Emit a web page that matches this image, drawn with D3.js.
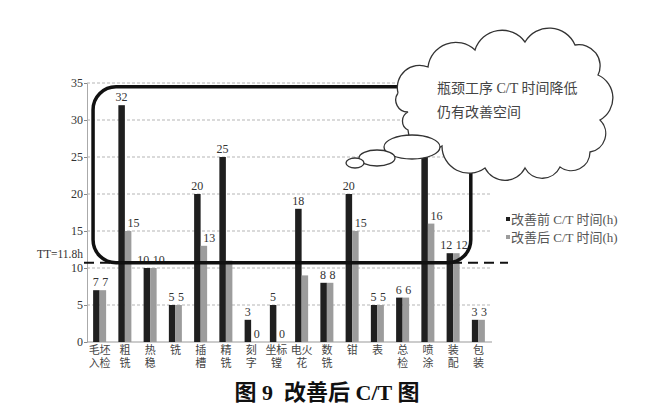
<!DOCTYPE html>
<html><head><meta charset="utf-8">
<script src="https://cdn.jsdelivr.net/npm/d3@7"></script>
<style>
html,body{margin:0;padding:0;background:#fff;}
svg{display:block;}
</style></head>
<body><svg id="c" width="650" height="411"></svg>
<script>
const categories = ["毛坯入检","粗铣","热稳","铣","插槽","精铣","刻字","坐标镗","电火花","数铣","钳","表","总检","喷涂","装配","包装"];
const categoryLines = [["毛坯","入检"],["粗","铣"],["热","稳"],["铣"],["插","槽"],["精","铣"],["刻","字"],["坐标","镗"],["电火","花"],["数","铣"],["钳"],["表"],["总","检"],["喷","涂"],["装","配"],["包","装"]];
const beforeValues = [7,32,10,5,20,25,3,5,18,8,20,5,6,25,12,3];
const afterValues  = [7,15,10,5,13,11,0,0,9,8,15,5,6,16,12,3];
const beforeLabels = [7,32,10,5,20,25,3,5,18,8,20,5,6,null,12,3];
const afterLabels  = [7,15,10,5,13,null,0,0,null,8,15,5,6,16,12,3];
const seriesNames = ["改善前 C/T 时间(h)","改善后 C/T 时间(h)"];
const yTicks = [0,5,10,15,20,25,30,35];
const ttText = "TT=11.8h";
const ttLineValue = 10.7;
const boxTopValue = 34.5;
const calloutLines = ["瓶颈工序 C/T 时间降低","仍有改善空间"];
const titleText = "图 9  改善后 C/T 图";

const serif = "'Liberation Serif','Noto Sans CJK SC',serif";
const svg = d3.select("#c");
const L = 87, R = 491, T = 83, B = 342;

const x0 = d3.scaleBand().domain(categories).range([L, R]).padding(0);
const bw = x0.bandwidth();
const x1 = d3.scaleBand().domain([0,1]).range([0, bw]).paddingInner(0).paddingOuter(0.94);
const y = d3.scaleLinear().domain([0,35]).range([B, T]);
const colors = ["#1f1f1f", "#9c9c9c"];

// grid
svg.append("g").selectAll("line").data(yTicks.filter(d=>d>0)).join("line")
  .attr("x1", L).attr("x2", R+1).attr("y1", d=>y(d)).attr("y2", d=>y(d))
  .attr("stroke", "#b5b5b5").attr("stroke-width", 1).attr("stroke-dasharray", "3,2");

// y axis
const yAxis = d3.axisLeft(y).tickValues(yTicks).tickSize(3).tickPadding(1);
const ya = svg.append("g").attr("transform", `translate(${L},0)`).call(yAxis);
ya.select(".domain").attr("stroke", "#aaa");
ya.selectAll(".tick line").attr("stroke", "#888");
ya.selectAll("text").attr("font-family", serif).attr("font-size", 12).attr("fill", "#333");

// x axis baseline
svg.append("line").attr("x1", L).attr("x2", R+1).attr("y1", B).attr("y2", B).attr("stroke", "#999");

// bars
const groups = svg.append("g").selectAll("g").data(categories).join("g")
  .attr("transform", d => `translate(${x0(d)},0)`);
groups.each(function(c, i){
  const g = d3.select(this);
  const vals = [beforeValues[i], afterValues[i]];
  const labs = [beforeLabels[i], afterLabels[i]];
  vals.forEach((v, s) => {
    g.append("rect").attr("x", x1(s)).attr("width", x1.bandwidth())
      .attr("y", y(v)).attr("height", B - y(v)).attr("fill", colors[s]);
  });
  const pair = Math.abs(vals[0] - vals[1]) < 2 && labs[0] !== null && labs[1] !== null;
  if (labs[0] !== null) {
    const t = g.append("text").attr("y", y(vals[0]) - 4)
      .attr("font-family", serif).attr("font-size", 12).attr("fill", "#333").text(labs[0]);
    if (pair) t.attr("x", bw/2 - 1).attr("text-anchor", "end");
    else t.attr("x", x1(0) + x1.bandwidth()/2).attr("text-anchor", "middle");
  }
  if (labs[1] !== null) {
    g.append("text").attr("x", x1(1) + 2.5).attr("y", y(vals[1]) - 4)
      .attr("text-anchor", "start").attr("font-family", serif).attr("font-size", 12)
      .attr("fill", "#333").text(labs[1]);
  }
  categoryLines[i].forEach((ln, k) => {
    g.append("text").attr("x", bw/2).attr("y", 354 + k*13)
      .attr("text-anchor", "middle").attr("font-family", serif).attr("font-size", 11)
      .attr("fill", "#444").text(ln);
  });
});

// highlight box
const bx1 = x0(categories[0]) + bw*0.24;
const bx2 = x0(categories[14]) + bw*1.2;
const by1 = y(boxTopValue), by2 = y(ttLineValue);
svg.append("rect").attr("x", bx1).attr("y", by1).attr("width", bx2 - bx1).attr("height", by2 - by1)
  .attr("rx", 23).attr("ry", 23).attr("fill", "none").attr("stroke", "#111").attr("stroke-width", 3.5);

// TT line
svg.append("line").attr("x1", L - 3).attr("x2", 508).attr("y1", y(ttLineValue)).attr("y2", y(ttLineValue))
  .attr("stroke", "#111").attr("stroke-width", 2).attr("stroke-dasharray", "10,6");
svg.append("text").attr("x", L - 4).attr("y", y(ttLineValue) - 5).attr("text-anchor", "end")
  .attr("font-family", serif).attr("font-size", 11.5).attr("fill", "#333").text(ttText);

// cloud callout
const cloudPts = [[398,93],[428,67],[475,50],[525,42],[575,45],[598,75],[600,120],[590,152],[560,167],[525,168],[485,168],[442,146],[408,130],[408,112]];
let dpath = `M${cloudPts[0][0]},${cloudPts[0][1]}`;
for (let i = 1; i <= cloudPts.length; i++) {
  const p = cloudPts[i % cloudPts.length], q = cloudPts[i-1];
  const r = Math.hypot(p[0]-q[0], p[1]-q[1]) * 0.56;
  dpath += ` A${r},${r} 0 0 1 ${p[0]},${p[1]}`;
}
svg.append("path").attr("d", dpath).attr("fill", "#fff").attr("stroke", "#333").attr("stroke-width", 1.3);
[[412,147,28,12],[377,158,18,8],[355,163,9,5]].forEach(e => {
  svg.append("ellipse").attr("cx", e[0]).attr("cy", e[1]).attr("rx", e[2]).attr("ry", e[3])
    .attr("fill", "#fff").attr("stroke", "#333").attr("stroke-width", 1.3);
});
calloutLines.forEach((t, k) => {
  svg.append("text").attr("x", 437).attr("y", 93 + k*24).attr("font-family", serif)
    .attr("font-size", 14).attr("fill", "#444").text(t);
});

// legend
seriesNames.forEach((n, s) => {
  const ly = 219 + s*18;
  svg.append("rect").attr("x", 506).attr("y", ly - 2).attr("width", 4).attr("height", 4).attr("fill", colors[s]);
  svg.append("text").attr("x", 511).attr("y", ly + 5).attr("font-family", serif)
    .attr("font-size", 13).attr("fill", "#555").text(n);
});

// title
svg.append("text").attr("x", 327).attr("y", 400).attr("text-anchor", "middle")
  .attr("font-family", serif).attr("font-weight", "bold").attr("font-size", 22)
  .attr("fill", "#111").attr("xml:space", "preserve").style("white-space", "pre").text(titleText);
</script></body></html>
